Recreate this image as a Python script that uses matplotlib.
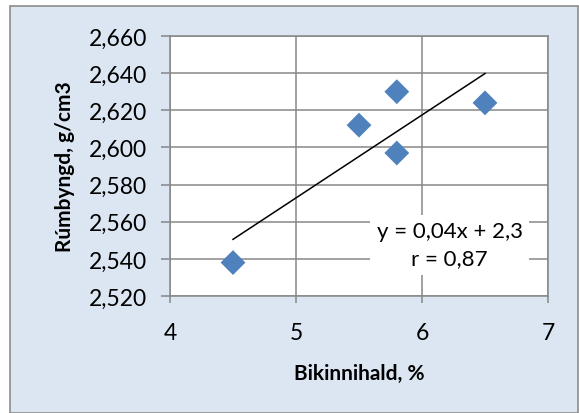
import matplotlib
matplotlib.use("Agg")
import matplotlib.pyplot as plt
from matplotlib.patches import Rectangle

# data
bikinnihald = [4.5, 5.5, 5.8, 5.8, 6.5]
rumbyngd = [2.538, 2.612, 2.630, 2.597, 2.624]
trend_x = [4.5, 6.5]
trend_y = [2.5505, 2.6398]
x_ticks = [4, 5, 6, 7]
y_ticks = [2.520, 2.540, 2.560, 2.580, 2.600, 2.620, 2.640, 2.660]
eq_text = "y = 0,04x + 2,3\nr = 0,87"

plt.rcParams['font.family'] = ['Lato', 'DejaVu Sans']
grid_c = "#878787"

W, H = 579, 414
fig = plt.figure(figsize=(W / 100, H / 100), dpi=100)
fig.patch.set_facecolor("white")

# chart area background with border
fig.patches.append(Rectangle((10 / W, 0), 568 / W, (H - 7) / H, transform=fig.transFigure,
                             facecolor="#DCE6F2", edgecolor="#8C8C8C", linewidth=1.2, zorder=-1))

ax = fig.add_axes([170 / W, (H - 297) / H, 378 / W, 260 / H])
ax.set_facecolor("white")
ax.set_xlim(4, 7)
ax.set_ylim(2.520, 2.660)
ax.set_xticks(x_ticks)
ax.set_yticks(y_ticks)
ax.set_xticklabels([str(v) for v in x_ticks])
ax.set_yticklabels([f"{v:.3f}".replace(".", ",") for v in y_ticks])
ax.grid(True, color=grid_c, linewidth=1.1)
ax.set_axisbelow(True)
for s in ax.spines.values():
    s.set_color(grid_c)
    s.set_linewidth(1.1)
ax.tick_params(axis="y", direction="out", length=6.5, width=1.1, color=grid_c, pad=10, labelsize=16.5)
ax.tick_params(axis="x", direction="out", length=5, width=1.1, color=grid_c, pad=14, labelsize=16.5)

ax.scatter(bikinnihald, rumbyngd, marker="D", s=160, color="#4F81BD", edgecolors="none", zorder=3)
ax.plot(trend_x, trend_y, color="black", linewidth=1.1, zorder=4)

ax.text(6.22, 2.5475, eq_text, ha="center", va="center", fontsize=16, linespacing=1.45,
        bbox=dict(boxstyle="square,pad=0.3", facecolor="white", edgecolor="none"), zorder=5)

ax.set_xlabel("Bikinnihald, %", fontsize=15, fontweight="bold", labelpad=14)
ax.set_ylabel("Rúmbyngd, g/cm3", fontsize=15, fontweight="bold", labelpad=10)

fig.savefig("out.png", dpi=100)
